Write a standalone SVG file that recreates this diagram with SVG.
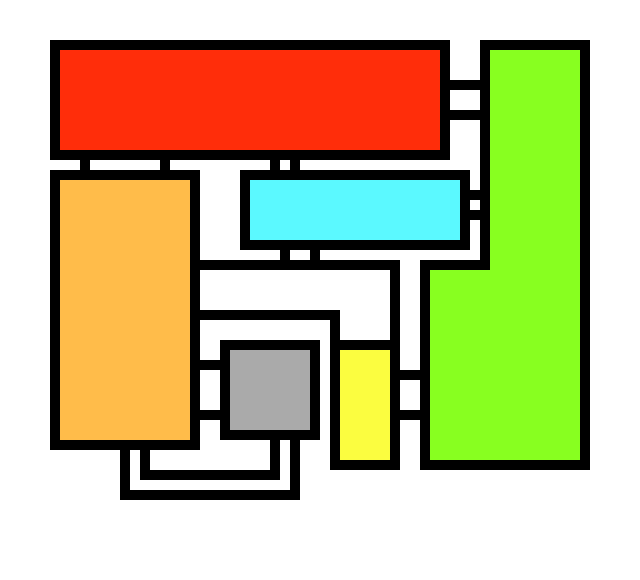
<svg xmlns="http://www.w3.org/2000/svg" width="640" height="580" viewBox="0 0 640 580">
<style>
.n{stroke:#000;stroke-width:10;stroke-linejoin:miter}
.c{fill:none;stroke:#000;stroke-width:10;stroke-linejoin:miter;stroke-linecap:butt}
</style>
<rect width="640" height="580" fill="#fff"/>
<g id="connectors">
<path class="c" d="M85,160V170"/>
<path class="c" d="M165,160V170"/>
<path class="c" d="M275,160V170"/>
<path class="c" d="M295,160V170"/>
<path class="c" d="M450,85H480"/>
<path class="c" d="M450,115H480"/>
<path class="c" d="M470,195H480"/>
<path class="c" d="M470,215H480"/>
<path class="c" d="M315,250V265H200"/>
<path class="c" d="M285,250V265H395V340"/>
<path class="c" d="M200,315H335V340"/>
<path class="c" d="M200,365H220"/>
<path class="c" d="M200,415H220"/>
<path class="c" d="M400,375H420"/>
<path class="c" d="M400,415H420"/>
<path class="c" d="M125,450V495H295V440"/>
<path class="c" d="M145,450V475H275V440"/>
</g>
<g id="red"><rect class="n" x="55" y="45" width="390" height="110" fill="#FF2D0A"/></g>
<g id="orange"><rect class="n" x="55" y="175" width="140" height="270" fill="#FFBC4A"/></g>
<g id="cyan"><rect class="n" x="245" y="175" width="220" height="70" fill="#5BF9FF"/></g>
<g id="green"><path class="n" d="M485,45H585V465H425V265H485Z" fill="#88FF20"/></g>
<g id="gray"><rect class="n" x="225" y="345" width="90" height="90" fill="#AAAAAA"/></g>
<g id="yellow"><rect class="n" x="335" y="345" width="60" height="120" fill="#FBFD40"/></g>
</svg>
